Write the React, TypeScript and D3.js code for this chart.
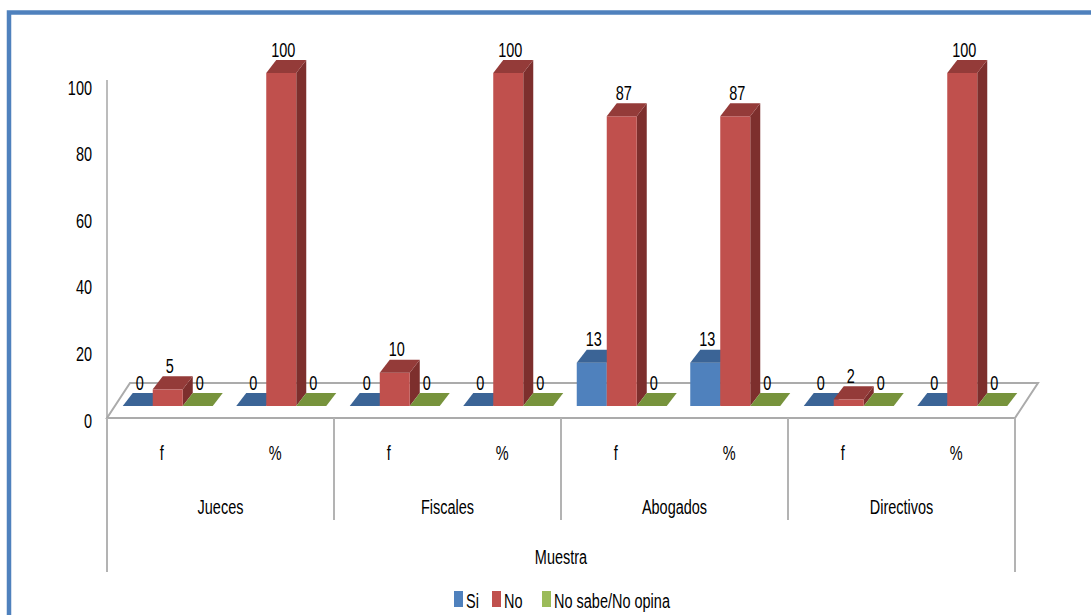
import React from "react";
import * as d3 from "d3";

// Sample groups and the two measures (frequency and percentage) for each
const groups = ["Jueces", "Fiscales", "Abogados", "Directivos"];
const measures = ["f", "%"];
const categories = groups.flatMap((g) => measures.map((m) => `${g}|${m}`));

// Answers per category, in the order above
const si = [0, 0, 0, 0, 13, 13, 0, 0];
const no = [5, 100, 10, 100, 87, 87, 2, 100];
const noSabe = [0, 0, 0, 0, 0, 0, 0, 0];

const seriesNames = ["Si", "No", "No sabe/No opina"];
const seriesValues = [si, no, noSabe];
const yTicks = [0, 20, 40, 60, 80, 100];

const palette = [
  { front: "#4F81BD", top: "#3B6496", side: "#2F5079" },
  { front: "#C0504D", top: "#943B39", side: "#7D2F2D" },
  { front: "#9BBB59", top: "#77933C", side: "#5F7730" },
];

const W = 1091;
const H = 615;
const FONT = "'Liberation Sans', Arial, sans-serif";
const FS = 21;
const SX = 0.69;

// Floor parallelogram extents
const X0 = 107;
const X1 = 1015;
const FLOOR_DX = 23;
const FLOOR_DY = -35;
// Bars stand part way back on the floor
const FACE_DX = 4;
const FACE_DY = -12;
// Bar depth
const BDX = 10;
const BDY = -13;

function Label({ x, cy, anchor = "middle", children }: any) {
  // cy is the visual middle of the glyphs
  return (
    <text
      transform={`translate(${x},${cy + FS * 0.358}) scale(${SX},1)`}
      textAnchor={anchor}
      fontFamily={FONT}
      fontSize={FS}
      fill="#000"
    >
      {children}
    </text>
  );
}

export default function App() {
  const x = d3.scaleBand<string>().domain(categories).range([X0, X1]).padding(0);
  const y = d3.scaleLinear().domain([0, 100]).range([418, 85]);
  const sub = d3.scaleBand<string>().domain(seriesNames).range([0, 90]).padding(0);
  const bw = sub.bandwidth();
  const groupBand = d3.scaleBand<string>().domain(groups).range([X0, X1]).padding(0);

  const pts = (arr: number[][]) => arr.map((p) => p.join(",")).join(" ");

  const floor = [
    [X0, y(0)],
    [X1, y(0)],
    [X1 + FLOOR_DX, y(0) + FLOOR_DY],
    [X0 + FLOOR_DX, y(0) + FLOOR_DY],
  ];

  const bars: React.ReactNode[] = [];
  const labels: React.ReactNode[] = [];
  categories.forEach((c, ci) => {
    const cx = (x(c) as number) + x.bandwidth() / 2;
    seriesNames.forEach((s, si_) => {
      const v = seriesValues[si_][ci];
      const col = palette[si_];
      const left = cx - 45 + (sub(s) as number) + FACE_DX;
      const right = left + bw;
      const bottom = y(0) + FACE_DY;
      const top = y(v) + FACE_DY;
      const key = `${ci}-${si_}`;
      const h = bottom - top;
      bars.push(
        <g key={key}>
          {h > 0.5 && (
            <>
              <polygon
                points={pts([
                  [right, bottom],
                  [right + BDX, bottom + BDY],
                  [right + BDX, top + BDY],
                  [right, top],
                ])}
                fill={col.side}
              />
              <rect x={left} y={top} width={bw} height={h} fill={col.front} />
            </>
          )}
          <polygon
            points={pts([
              [left, top],
              [right, top],
              [right + BDX, top + BDY],
              [left + BDX, top + BDY],
            ])}
            fill={col.top}
          />
        </g>
      );
      labels.push(
        <Label key={`l${key}`} x={left + bw / 2 + 2} cy={top + BDY - 11}>
          {v}
        </Label>
      );
    });
  });

  const legendX = [454, 492, 542];

  return (
    <svg
      width={W}
      height={H}
      viewBox={`0 0 ${W} ${H}`}
      style={{ position: "absolute", left: 0, top: 0, background: "#fff" }}
    >
      <rect x={0} y={0} width={W} height={H} fill="#fff" />
      {/* chart frame */}
      <rect x={9} y={12.5} width={W + 20} height={H + 20} fill="none" stroke="#4F81BD" strokeWidth={4.5} />

      {/* floor */}
      <polygon points={pts(floor)} fill="#fff" stroke="#ABABAB" strokeWidth={2} />

      {/* value axis */}
      <line x1={X0} x2={X0} y1={80} y2={y(0)} stroke="#A6A6A6" strokeWidth={1.5} />
      {yTicks.map((t) => (
        <Label key={t} x={92} cy={y(t) + 2} anchor="end">
          {t}
        </Label>
      ))}

      {/* category axis frame */}
      <line x1={X0} x2={X0} y1={y(0)} y2={572} stroke="#B3B3B3" strokeWidth={2} />
      <line x1={X1} x2={X1} y1={y(0)} y2={572} stroke="#B3B3B3" strokeWidth={2} />
      {groups.slice(1).map((g) => (
        <line
          key={g}
          x1={groupBand(g) as number}
          x2={groupBand(g) as number}
          y1={y(0)}
          y2={520}
          stroke="#B3B3B3"
          strokeWidth={2}
        />
      ))}
      {categories.map((c) => (
        <Label key={c} x={(x(c) as number) + x.bandwidth() / 2 - 2} cy={452}>
          {c.split("|")[1]}
        </Label>
      ))}
      {groups.map((g) => (
        <Label key={g} x={(groupBand(g) as number) + groupBand.bandwidth() / 2} cy={506}>
          {g}
        </Label>
      ))}
      <Label x={(X0 + X1) / 2} cy={556}>
        Muestra
      </Label>

      {bars}
      {labels}

      {/* legend */}
      {seriesNames.map((s, i) => (
        <g key={s}>
          <rect x={legendX[i]} y={591} width={9} height={16} fill={palette[i].front} />
          <Label x={legendX[i] + 12} cy={600} anchor="start">
            {s}
          </Label>
        </g>
      ))}
    </svg>
  );
}
